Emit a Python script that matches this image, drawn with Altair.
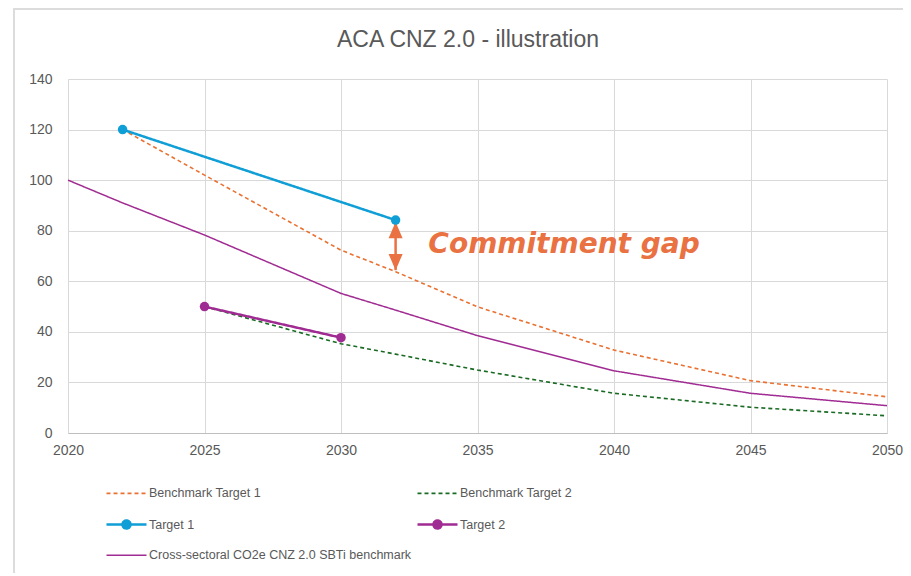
import altair as alt
import pandas as pd

title_text = "ACA CNZ 2.0 - illustration"

series_names = [
    "Benchmark Target 1",
    "Benchmark Target 2",
    "Target 1",
    "Target 2",
    "Cross-sectoral CO2e CNZ 2.0 SBTi benchmark",
]
series_colors = ["#E97132", "#196B24", "#0F9ED5", "#A02B93", "#A02B93"]
series_dash = [[4, 3], [4, 3], [1, 0], [1, 0], [1, 0]]
series_width = [1.6, 1.6, 2.5, 2.5, 1.5]
marker_series = ["Target 1", "Target 2"]
# legend is laid out column by column: put entries so rows read as in the reference
legend_order = [0, 2, 4, 1, 3]

bt1_years = [2022, 2025, 2030, 2032, 2035, 2040, 2045, 2050]
bt1_values = [120, 102, 72.3, 63.8, 49.9, 32.8, 20.7, 14.3]
bt2_years = [2025, 2030, 2032, 2035, 2040, 2045, 2050]
bt2_values = [50, 35.3, 31.2, 24.9, 15.7, 10.2, 6.8]
t1_years = [2022, 2032]
t1_values = [120, 84.2]
t2_years = [2025, 2030]
t2_values = [50, 37.7]
cs_years = [2020, 2022, 2025, 2030, 2032, 2035, 2040, 2045, 2050]
cs_values = [100, 91, 78.3, 55.2, 48.6, 38.5, 24.6, 15.7, 10.8]

x_ticks = [2020, 2025, 2030, 2035, 2040, 2045, 2050]
y_ticks = [0, 20, 40, 60, 80, 100, 120, 140]

gap_year = 2032
gap_top = 83.4
gap_bottom = 64.4
gap_label = "Commitment gap"
gap_label_year = 2033.2
gap_label_value = 71.2
gap_color = "#E97142"

text_color = "#595959"
grid_color = "#d9d9d9"

all_years = [bt1_years, bt2_years, t1_years, t2_years, cs_years]
all_values = [bt1_values, bt2_values, t1_values, t2_values, cs_values]
rows = []
for name, ys, vs in zip(series_names, all_years, all_values):
    for yr, v in zip(ys, vs):
        rows.append({"series": name, "year": yr, "value": v})
df = pd.DataFrame(rows)
color_map = dict(zip(series_names, series_colors))
df_pts = df[df["series"].isin(marker_series)].copy()
df_pts["hex"] = df_pts["series"].map(color_map)

dom = [series_names[i] for i in legend_order]
dom_colors = [series_colors[i] for i in legend_order]
dom_dash = [series_dash[i] for i in legend_order]
dom_width = [series_width[i] for i in legend_order]

x_scale = alt.Scale(domain=[2020, 2050], nice=False, zero=False)
y_scale = alt.Scale(domain=[0, 140], nice=False)

x_enc = alt.X(
    "year:Q",
    scale=x_scale,
    axis=alt.Axis(
        values=x_ticks, format="d", title=None, grid=True, gridColor=grid_color,
        domainColor="#bfbfbf", ticks=False, labelPadding=10, labelFontSize=14,
        labelColor=text_color, labelFont="Liberation Sans", labelFlush=False,
        labelOverlap=False,
    ),
)
y_enc = alt.Y(
    "value:Q",
    scale=y_scale,
    axis=alt.Axis(
        values=y_ticks, title=None, grid=True, gridColor=grid_color, domain=False,
        ticks=False, labelPadding=16, labelFontSize=14, labelColor=text_color,
        labelFont="Liberation Sans",
    ),
)

# legend symbols (custom paths: a 40px line, with a filled dot for the marker series)
LINE_PATH = "M-2,0L6,0"
DOT = ("M2.8,0A0.8,0.8 0 1 1 1.2,0A0.8,0.8 0 1 1 2.8,0"
       "M2.5,0A0.5,0.5 0 1 1 1.5,0A0.5,0.5 0 1 1 2.5,0"
       "M2.2,0A0.2,0.2 0 1 1 1.8,0A0.2,0.2 0 1 1 2.2,0")
legend_shapes = [LINE_PATH + DOT if n in marker_series else LINE_PATH for n in dom]

legend = alt.Legend(
    title=None,
    orient="none",
    legendX=42,
    legendY=408,
    columns=2,
    columnPadding=0,
    rowPadding=15,
    symbolSize=100,
    symbolOpacity=1,
    labelFont="Liberation Sans",
    labelFontSize=12.5,
    labelColor=text_color,
    labelOffset=26,
    labelLimit=400,
)

color_enc = alt.Color("series:N", scale=alt.Scale(domain=dom, range=dom_colors), legend=legend)
dash_enc = alt.StrokeDash("series:N", scale=alt.Scale(type="ordinal", domain=dom, range=dom_dash))
width_enc = alt.StrokeWidth("series:N", scale=alt.Scale(type="ordinal", domain=dom, range=dom_width))

lines = alt.Chart(df).mark_line().encode(
    x=x_enc,
    y=y_enc,
    color=color_enc,
    strokeDash=dash_enc,
    strokeWidth=width_enc,
    order="year:Q",
)

# legend-only layer (no rows drawn): supplies the symbol shapes
legend_layer = alt.Chart(df).mark_point(filled=False, opacity=1).encode(
    x="year:Q",
    y="value:Q",
    color=color_enc,
    strokeDash=dash_enc,
    strokeWidth=width_enc,
    shape=alt.Shape("series:N", scale=alt.Scale(domain=dom, range=legend_shapes)),
).transform_filter("false")

points = alt.Chart(df_pts).mark_circle(size=90, opacity=1).encode(
    x="year:Q", y="value:Q", fill=alt.Fill("hex:N", scale=None)
)

gap_df = pd.DataFrame({"year": [gap_year], "top": [gap_top], "bottom": [gap_bottom]})
UP = "M0,0L1,2.3L-1,2.3Z"
DOWN = "M0,0L1,-2.3L-1,-2.3Z"
shaft = alt.Chart(gap_df).mark_rule(color=gap_color, strokeWidth=2.5).encode(
    x="year:Q", y="top:Q", y2="bottom:Q"
)
head_up = alt.Chart(gap_df).mark_point(shape=UP, size=196, filled=True, color=gap_color, opacity=1).encode(
    x="year:Q", y="top:Q"
)
head_down = alt.Chart(gap_df).mark_point(shape=DOWN, size=196, filled=True, color=gap_color, opacity=1).encode(
    x="year:Q", y="bottom:Q"
)

label_df = pd.DataFrame({"year": [gap_label_year], "value": [gap_label_value], "text": [gap_label]})
label = alt.Chart(label_df).mark_text(
    align="left", baseline="alphabetic", font="DejaVu Sans", fontSize=28,
    fontWeight="bold", fontStyle="italic", color=gap_color,
).encode(x="year:Q", y="value:Q", text="text:N")

# chart title, drawn as a text mark above the plot area
title_df = pd.DataFrame({"t": [title_text]})
title = alt.Chart(title_df).mark_text(
    align="center", baseline="middle", font="Liberation Sans", fontSize=23,
    color=text_color,
).encode(x=alt.value(400), y=alt.value(-39), text="t:N")

# faint frame around the chart area, as in the reference
frame = alt.Chart(title_df).mark_rect(fill=None, stroke="#dcdcdc", strokeWidth=2).encode(
    x=alt.value(-54), x2=alt.value(900), y=alt.value(-70), y2=alt.value(600)
)

chart = alt.layer(frame, title, shaft, head_up, head_down, lines, legend_layer, points, label).properties(
    width=819,
    height=354,
    autosize=alt.AutoSizeParams(type="none"),
    padding={"left": 60, "top": 71, "right": 16, "bottom": 140},
).configure_view(stroke=None)

chart.save("out.html", embed_options={"renderer": "svg", "actions": False})
